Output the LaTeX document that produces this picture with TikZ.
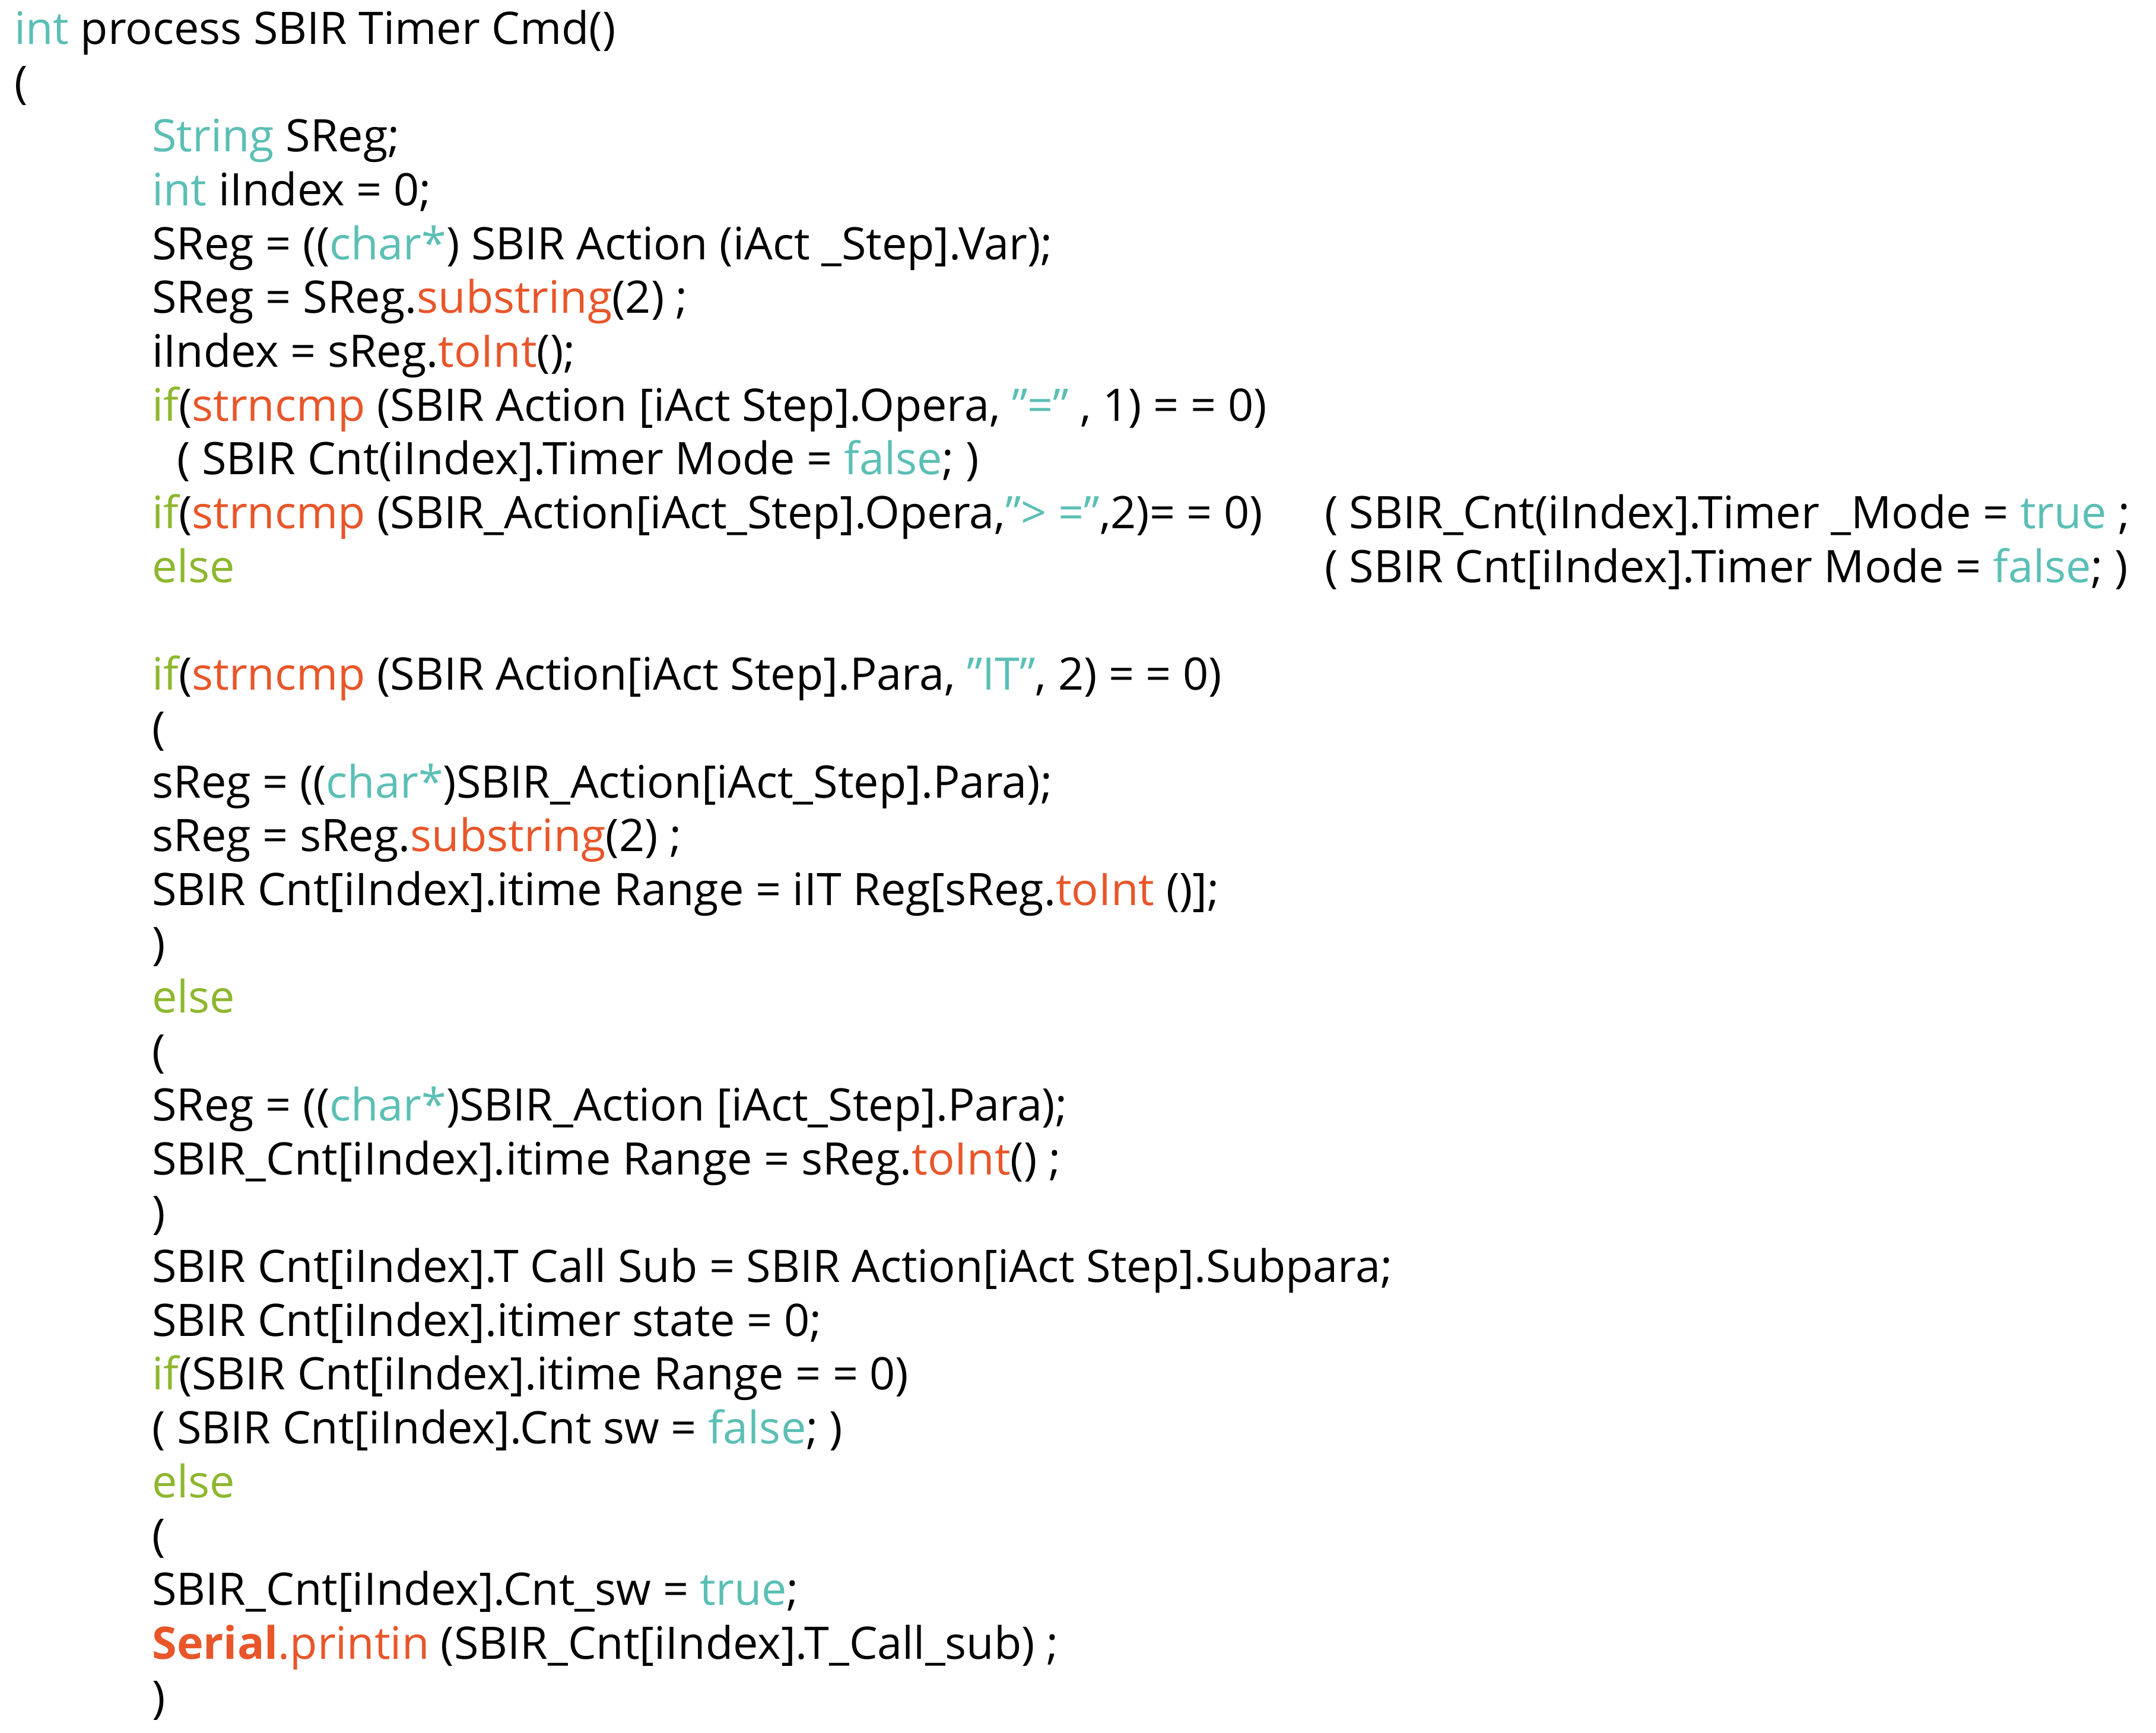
\documentclass[tikz,border=0pt]{standalone}
\usepackage{fontspec}
\setmainfont{Open Sans}
\definecolor{kw}{HTML}{5BBFB5}
\definecolor{fn}{HTML}{E8562A}
\definecolor{ctl}{HTML}{8DB72E}
\newcommand{\K}[1]{\textcolor{kw}{#1}}
\newcommand{\F}[1]{\textcolor{fn}{#1}}
\newcommand{\C}[1]{\textcolor{ctl}{#1}}
\newcommand{\Q}{\symbol{34}}
\tikzset{code/.style={anchor=base west,inner sep=0pt,font=\fontsize{15.1}{17}\selectfont}}
\begin{document}
\begin{tikzpicture}[x=1pt,y=1pt]
\useasboundingbox[fill=white] (0,0) rectangle (726.6,-584);
\def\L#1{-(14.87+18.14*#1)}
\node[code] (l0) at (4.65,{\L{0}}) {\K{int} process SBIR Timer Cmd()};
\node[code] (l1) at (4.65,{\L{1}}) {(};
\node[code] (l2) at (51.1,{\L{2}}) {\K{String} SReg;};
\node[code] (l3) at (51.1,{\L{3}}) {\K{int} iIndex = 0;};
\node[code] (l4) at (51.1,{\L{4}}) {SReg = ((\K{char*}) SBIR Action (iAct \_Step].Var);};
\node[code] (l5) at (51.1,{\L{5}}) {SReg = SReg.\F{substring}(2) ;};
\node[code] (l6) at (51.1,{\L{6}}) {iIndex = sReg.\F{toInt}();};
\node[code] (l7) at (51.1,{\L{7}}) {\C{if}(\F{strncmp} (SBIR Action [iAct Step].Opera, \K{\Q=\Q} , 1) = = 0)};
\node[code] (l8) at (59.5,{\L{8}}) {( SBIR Cnt(iIndex].Timer Mode = \K{false}; )};
\node[code] (l9) at (51.1,{\L{9}}) {\C{if}(\F{strncmp} (SBIR\_Action[iAct\_Step].Opera,\K{\Q> =\Q},2)= = 0)};
\node[code] (l9b) at (446.2,{\L{9}}) {( SBIR\_Cnt(iIndex].Timer \_Mode = \K{true} ;};
\node[code] (l10) at (51.1,{\L{10}}) {\C{else}};
\node[code] (l10b) at (446.2,{\L{10}}) {( SBIR Cnt[iIndex].Timer Mode = \K{false}; )};
\node[code] (l12) at (51.1,{\L{12}}) {\C{if}(\F{strncmp} (SBIR Action[iAct Step].Para, \K{\Q IT\Q}, 2) = = 0)};
\node[code] (l13) at (51.1,{\L{13}}) {(};
\node[code] (l14) at (51.1,{\L{14}}) {sReg = ((\K{char*})SBIR\_Action[iAct\_Step].Para);};
\node[code] (l15) at (51.1,{\L{15}}) {sReg = sReg.\F{substring}(2) ;};
\node[code] (l16) at (51.1,{\L{16}}) {SBIR Cnt[iIndex].itime Range = iIT Reg[sReg.\F{toInt} ()];};
\node[code] (l17) at (51.1,{\L{17}}) {)};
\node[code] (l18) at (51.1,{\L{18}}) {\C{else}};
\node[code] (l19) at (51.1,{\L{19}}) {(};
\node[code] (l20) at (51.1,{\L{20}}) {SReg = ((\K{char*})SBIR\_Action [iAct\_Step].Para);};
\node[code] (l21) at (51.1,{\L{21}}) {SBIR\_Cnt[iIndex].itime Range = sReg.\F{toInt}() ;};
\node[code] (l22) at (51.1,{\L{22}}) {)};
\node[code] (l23) at (51.1,{\L{23}}) {SBIR Cnt[iIndex].T Call Sub = SBIR Action[iAct Step].Subpara;};
\node[code] (l24) at (51.1,{\L{24}}) {SBIR Cnt[iIndex].itimer state = 0;};
\node[code] (l25) at (51.1,{\L{25}}) {\C{if}(SBIR Cnt[iIndex].itime Range = = 0)};
\node[code] (l26) at (51.1,{\L{26}}) {( SBIR Cnt[iIndex].Cnt sw = \K{false}; )};
\node[code] (l27) at (51.1,{\L{27}}) {\C{else}};
\node[code] (l28) at (51.1,{\L{28}}) {(};
\node[code] (l29) at (51.1,{\L{29}}) {SBIR\_Cnt[iIndex].Cnt\_sw = \K{true};};
\node[code] (l30) at (51.1,{\L{30}}) {\textcolor{fn}{\bfseries Serial}\F{.printin} (SBIR\_Cnt[iIndex].T\_Call\_sub) ;};
\node[code] (l31) at (51.1,{\L{31}}) {)};
\end{tikzpicture}
\end{document}
